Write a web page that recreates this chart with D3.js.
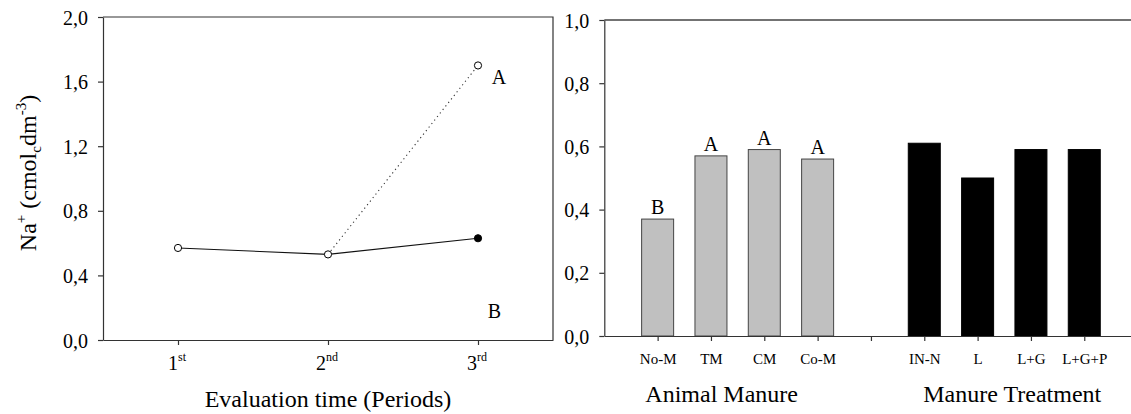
<!DOCTYPE html>
<html>
<head>
<meta charset="utf-8">
<script src="https://cdn.jsdelivr.net/npm/d3@7"></script>
<style>
  body { margin: 0; background: #fff; }
  svg { display: block; font-family: "Liberation Serif", "Times New Roman", serif; }
  .axis path, .axis line { stroke: #333; stroke-width: 1.2; }
  .axis text { fill: #000; }
</style>
</head>
<body>
<svg id="chart" width="1131" height="414"></svg>
<script>
// left panel: Na+ over evaluation periods
const periods = [1, 2, 3];
const periodNums = ["1", "2", "3"];
const periodSups = ["st", "nd", "rd"];
const solidValues = [0.57, 0.53, 0.63];       // open, open, filled
const dottedValues = [null, 0.53, 1.70];       // branch from 2nd period
const leftTicks = [0, 0.4, 0.8, 1.2, 1.6, 2.0];
const leftLetters = ["A", "B"];
const leftLetterX = [3.14, 3.11];
const leftLetterY = [1.585, 0.135];

// right panel: bars
const animalCats = ["No-M", "TM", "CM", "Co-M"];
const animalValues = [0.37, 0.57, 0.59, 0.56];
const animalLetters = ["B", "A", "A", "A"];
const treatCats = ["IN-N", "L", "L+G", "L+G+P"];
const treatValues = [0.61, 0.50, 0.59, 0.59];
const rightTicks = [0, 0.2, 0.4, 0.6, 0.8, 1.0];
const groupTitles = ["Animal Manure", "Manure Treatment"];
const groupTitleX = [2.2, 7.65];

const svg = d3.select("#chart");
const comma = d => d3.format(".1f")(d).replace(".", ",");
const serif = "'Liberation Serif', 'Times New Roman', serif";

// ---------- left panel ----------
const xL = d3.scaleLinear().domain([0.5, 3.5]).range([103, 553]);
const yL = d3.scaleLinear().domain([0, 2]).range([340, 17]);
const left = svg.append("g");

// frame (top and right)
left.append("path")
    .attr("d", `M${xL(0.5)},${yL(2)}H${xL(3.5)}V${yL(0)}`)
    .attr("fill", "none").attr("stroke", "#333").attr("stroke-width", 1.2);

left.append("g").attr("class", "axis")
    .attr("transform", `translate(${xL(0.5)},0)`)
    .call(d3.axisLeft(yL).tickValues(leftTicks).tickFormat(comma).tickSize(5).tickPadding(10).tickSizeOuter(0))
    .call(g => g.selectAll("text").style("font-family", serif).attr("font-size", 20).attr("dy", "0.35em"));

left.append("g").attr("class", "axis")
    .attr("transform", `translate(0,${yL(0)})`)
    .call(d3.axisBottom(xL).tickValues(periods).tickFormat("").tickSize(5).tickSizeOuter(0));

// ordinal tick labels with superscripts
const tl = left.selectAll(".plabel").data(periods).enter().append("text")
    .attr("class", "plabel")
    .attr("x", d => xL(d) - 1)
    .attr("y", 370)
    .attr("text-anchor", "middle")
    .attr("font-size", 20);
tl.append("tspan").text((d, i) => periodNums[i]);
tl.append("tspan").attr("font-size", 12).attr("dy", -9).text((d, i) => periodSups[i]);

// lines
const line = d3.line().defined(d => d.v != null).x(d => xL(d.p)).y(d => yL(d.v));
const solidPts = periods.map((p, i) => ({p: p, v: solidValues[i]}));
const dottedPts = periods.map((p, i) => ({p: p, v: dottedValues[i]}));

left.append("path").datum(dottedPts).attr("d", line)
    .attr("fill", "none").attr("stroke", "#333").attr("stroke-width", 1.1)
    .attr("stroke-dasharray", "1.2,3.3");
left.append("path").datum(solidPts).attr("d", line)
    .attr("fill", "none").attr("stroke", "#111").attr("stroke-width", 1.1);

// markers
left.selectAll(".dpt").data(dottedPts.filter(d => d.v != null && d.p === 3)).enter().append("circle")
    .attr("cx", d => xL(d.p)).attr("cy", d => yL(d.v)).attr("r", 3.6)
    .attr("fill", "#fff").attr("stroke", "#000").attr("stroke-width", 1);
left.selectAll(".spt").data(solidPts).enter().append("circle")
    .attr("cx", d => xL(d.p)).attr("cy", d => yL(d.v)).attr("r", 3.6)
    .attr("fill", d => d.p === 3 ? "#000" : "#fff")
    .attr("stroke", "#000").attr("stroke-width", 1);

left.selectAll(".lletter").data(leftLetters).enter().append("text")
    .attr("x", (d, i) => xL(leftLetterX[i]))
    .attr("y", (d, i) => yL(leftLetterY[i]))
    .attr("text-anchor", "middle").attr("font-size", 20)
    .text(d => d);

left.append("text")
    .attr("x", (xL(0.5) + xL(3.5)) / 2).attr("y", 407)
    .attr("text-anchor", "middle").attr("font-size", 24)
    .text("Evaluation time (Periods)");

const yTitle = left.append("text")
    .attr("transform", "translate(36,173) rotate(-90)")
    .attr("text-anchor", "middle").attr("font-size", 24);
yTitle.append("tspan").text("Na");
yTitle.append("tspan").attr("font-size", 15).attr("dy", -10).text("+");
yTitle.append("tspan").attr("dy", 10).text(" (cmol");
yTitle.append("tspan").attr("font-size", 15).attr("dy", 5).text("c");
yTitle.append("tspan").attr("dy", -5).text("dm");
yTitle.append("tspan").attr("font-size", 15).attr("dy", -10).text("-3");
yTitle.append("tspan").attr("dy", 10).text(")");

// ---------- right panel ----------
const xR = d3.scaleLinear().domain([0, 10]).range([604.3, 1137.6]);
const yR = d3.scaleLinear().domain([0, 1]).range([336, 20]);
const right = svg.append("g");
const unit = xR(1) - xR(0);
const barW = unit * 0.6;

const allCats = [...animalCats, "", ...treatCats];
const catPos = d3.range(1, 10);

right.append("line")
    .attr("x1", xR(0)).attr("x2", xR(10)).attr("y1", yR(1)).attr("y2", yR(1))
    .attr("stroke", "#444").attr("stroke-width", 1.5);

const animalBars = animalCats.map((c, i) => ({c: c, v: animalValues[i], p: i + 1, l: animalLetters[i]}));
const treatBars = treatCats.map((c, i) => ({c: c, v: treatValues[i], p: i + 6}));

right.selectAll(".abar").data(animalBars).enter().append("rect")
    .attr("x", d => xR(d.p) - barW / 2).attr("width", barW)
    .attr("y", d => yR(d.v)).attr("height", d => yR(0) - yR(d.v))
    .attr("fill", "#c0c0c0").attr("stroke", "#444").attr("stroke-width", 1);

right.selectAll(".tbar").data(treatBars).enter().append("rect")
    .attr("x", d => xR(d.p) - barW / 2).attr("width", barW)
    .attr("y", d => yR(d.v)).attr("height", d => yR(0) - yR(d.v))
    .attr("fill", "#000").attr("stroke", "#000").attr("stroke-width", 1);

right.selectAll(".aletter").data(animalBars).enter().append("text")
    .attr("x", d => xR(d.p)).attr("y", d => yR(d.v) - 5)
    .attr("text-anchor", "middle").attr("font-size", 20)
    .text(d => d.l);

right.append("g").attr("class", "axis")
    .attr("transform", `translate(${xR(0)},0)`)
    .call(d3.axisLeft(yR).tickValues(rightTicks).tickFormat(comma).tickSize(5).tickPadding(10).tickSizeOuter(0))
    .call(g => g.selectAll("text").style("font-family", serif).attr("font-size", 20).attr("dy", "0.35em"));

right.append("g").attr("class", "axis")
    .attr("transform", `translate(0,${yR(0)})`)
    .call(d3.axisBottom(xR).tickValues(catPos).tickFormat((d, i) => allCats[i]).tickSize(5).tickPadding(12).tickSizeOuter(0))
    .call(g => g.selectAll("text").style("font-family", serif).attr("font-size", 15));

right.selectAll(".gtitle").data(groupTitles).enter().append("text")
    .attr("x", (d, i) => xR(groupTitleX[i])).attr("y", 402)
    .attr("text-anchor", "middle").attr("font-size", 24)
    .text(d => d);
</script>
</body>
</html>
